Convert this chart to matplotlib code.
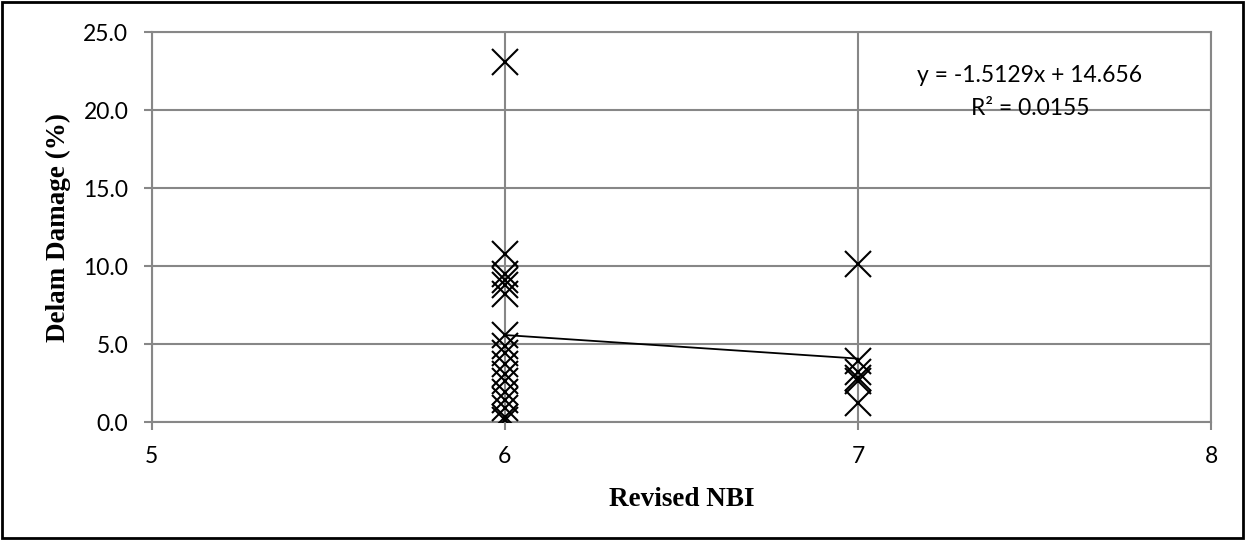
import numpy as np
import matplotlib.pyplot as plt
from matplotlib.patches import Rectangle

# Valeurs
nbi_6 = [23.1, 10.8, 9.5, 9.1, 8.8, 8.2, 5.6, 4.9, 4.4, 3.7, 3.1, 2.6, 1.9, 1.4, 0.9, 0.3, 0.1]
nbi_7 = [10.1, 3.9, 3.2, 2.8, 2.6, 1.2]
trend_slope = -1.5129
trend_intercept = 14.656
r2 = 0.0155

x_ticks = [5, 6, 7, 8]
y_ticks = [0, 5, 10, 15, 20, 25]

grid_col = "#878787"
tick_font = "Lato"
label_font = "Liberation Serif"

fig = plt.figure(figsize=(12.45, 5.4), dpi=100)
ax = fig.add_axes([0.122, 0.2185, 0.8507, 0.722])

xs = [6] * len(nbi_6) + [7] * len(nbi_7)
ys = nbi_6 + nbi_7
ax.plot(xs, ys, linestyle="", marker="x", color="black", markersize=18.5, markeredgewidth=1.5, zorder=3)

# Courbe de tendance (sur la plage des données)
tx = np.array([min(xs), max(xs)])
ax.plot(tx, trend_slope * tx + trend_intercept, color="black", linewidth=1.3, zorder=4)

ax.text(7.487, 22.2, f"y = {trend_slope}x + {trend_intercept}", ha="center", va="center",
        fontsize=16.5, family=tick_font)
ax.text(7.487, 20.1, f"R² = {r2}", ha="center", va="center", fontsize=16.5, family=tick_font)

ax.set_xlim(5, 8)
ax.set_ylim(0, 25)
ax.set_xticks(x_ticks)
ax.set_yticks(y_ticks)
ax.set_xticklabels([str(v) for v in x_ticks], family=tick_font, fontsize=16.5)
ax.set_yticklabels([f"{v:.1f}" for v in y_ticks], family=tick_font, fontsize=16.5)
ax.tick_params(axis="both", color=grid_col, width=1.5, length=6)
ax.tick_params(axis="x", pad=11)
ax.tick_params(axis="y", pad=11)

ax.grid(True, color=grid_col, linewidth=1.5)
ax.set_axisbelow(True)
for s in ax.spines.values():
    s.set_color(grid_col)
    s.set_linewidth(1.5)

ax.set_xlabel("Revised NBI", family=label_font, fontweight="bold", fontsize=19.5, labelpad=15)
ax.set_ylabel("Delam Damage (%)", family=label_font, fontweight="bold", fontsize=19.5, labelpad=9)

# Cadre extérieur
fig.patches.append(Rectangle((0.002, 0.004), 0.996, 0.992, transform=fig.transFigure,
                             fill=False, edgecolor="black", linewidth=2))

fig.savefig("out.png", dpi=100)
